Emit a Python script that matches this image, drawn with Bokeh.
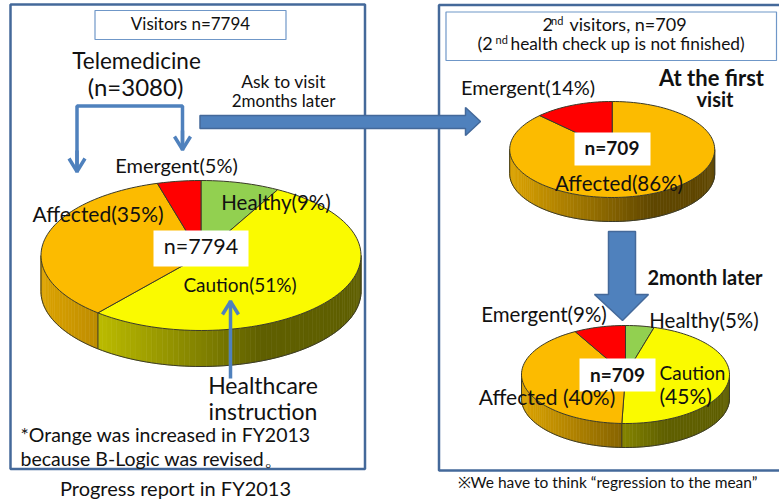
import math
from bokeh.plotting import figure
from bokeh.models import Range1d
from bokeh.core.properties import value
from bokeh.embed import file_html
from bokeh.resources import INLINE

# ---- data ----
slice_names = ["Healthy", "Caution", "Affected", "Emergent"]
visitors_values = [9, 51, 35, 5]
first_visit_values = [0, 0, 86, 14]
later_values = [5, 45, 40, 9]
slice_colors = {"Healthy": "#92D050", "Caution": "#FAFA00", "Affected": "#FCBB00", "Emergent": "#FF0000"}

# ---- layout ----
W, H = 779, 502
FONT = "Lato"
BLUE = "#4F81BD"
DARK = "#44699A"
EDGE = "#3A3A28"
# cx, cy, rx, ry, depth
PIE_LEFT = (200.5, 255, 160, 75, 36)
PIE_TOP = (611.7, 149, 102.5, 48, 24)
PIE_LOW = (625, 374, 104, 49, 24)

p = figure(width=W, height=H, x_range=Range1d(0, 779), y_range=Range1d(502, 0),
           output_backend="svg", toolbar_location=None, min_border=0)
p.axis.visible = False
p.grid.visible = False
p.outline_line_color = None
p.background_fill_color = "white"
p.border_fill_color = "white"


def warp(t):
    return t - 7 * math.sin(math.radians(t))


def shade(hex_color, f):
    r, g, b = (int(hex_color[i:i + 2], 16) for i in (1, 3, 5))
    return "#%02x%02x%02x" % (int(r * f), int(g * f), int(b * f))


def pie(values, geom):
    cx, cy, rx, ry, d = geom
    total = sum(values)
    pt = lambda t: (cx + rx * math.sin(math.radians(t)), cy - ry * math.cos(math.radians(t)))
    spans, acc = [], 0
    for name, v in zip(slice_names, values):
        if v > 0:
            spans.append((name, warp(acc / total * 360), warp((acc + v) / total * 360)))
        acc += v
    # rounded percentages may not reach 100 exactly; close the ring
    spans[-1] = (spans[-1][0], spans[-1][1], 360.0)
    spans[0] = (spans[0][0], 0.0, spans[0][2])
    # side wall
    xs, ys, cs = [], [], []
    for name, a, b in spans:
        lo, hi = max(a, 90), min(b, 270)
        t = lo
        while t < hi:
            u = min(t + 2, hi)
            x0, y0 = pt(t)
            x1, y1 = pt(u)
            xs.append([x0, x1, x1, x0])
            ys.append([y0, y1, y1 + d, y0 + d])
            frac = ((x0 + x1) / 2 - (cx - rx)) / (2 * rx)
            cs.append(shade(slice_colors[name], max(0.38, 0.88 - 0.72 * frac)))
            t = u
    p.patches(xs, ys, fill_color=cs, line_color=cs, line_width=0.6)
    arc = [90 + i * 2 for i in range(91)]
    p.line([pt(t)[0] for t in arc], [pt(t)[1] + d for t in arc], line_color=EDGE, line_width=1)
    for t in (90, 270):
        x, y = pt(t)
        p.line([x, x], [y, y + d], line_color=EDGE, line_width=1)
    for name, a, b in spans:
        if 90 < a < 270:
            x, y = pt(a)
            p.line([x, x], [y, y + d], line_color=EDGE, line_width=1)
    # top face
    for name, a, b in spans:
        n = max(2, int((b - a) / 2))
        ts = [a + (b - a) * i / n for i in range(n + 1)]
        fx = [cx] + [pt(t)[0] for t in ts]
        fy = [cy] + [pt(t)[1] for t in ts]
        p.patch(fx, fy, fill_color=slice_colors[name], line_color=EDGE, line_width=1)


def box(x0, y0, x1, y1, fill=None, line=None, lw=1.0):
    p.patch([x0, x1, x1, x0], [y0, y0, y1, y1], fill_color=fill or "white",
            fill_alpha=1 if fill else 0, line_color=line, line_width=lw, line_alpha=1 if line else 0)


def write(x, y, s, size, align="left", bold=False, color="#111111"):
    p.text([x], [y - 1.5], text=[s], text_font=value(FONT), text_font_size=f"{size}px", text_align=align,
           text_baseline="middle", text_color=color, text_font_style="bold" if bold else "normal")


def open_arrow(x, y0, y1):
    s = 1 if y1 > y0 else -1
    p.line([x, x], [y0, y1], line_color=BLUE, line_width=3.5)
    p.line([x - 8, x, x + 8], [y1 - 14 * s, y1 - 1 * s, y1 - 14 * s], line_color=BLUE, line_width=3.5)


# frames
box(10, 4, 364.5, 468.5, line=DARK, lw=2.5)
p.line([779, 438.5, 438.5, 779], [4.5, 4.5, 470, 470], line_color=DARK, line_width=2.5)
box(94.5, 10, 285.5, 39, line="#6F97C8", lw=1.2)
box(445.5, 11.5, 776, 60, line="#6F97C8", lw=1.2)

pie(visitors_values, PIE_LEFT)
pie(first_visit_values, PIE_TOP)
pie(later_values, PIE_LOW)

# connectors and arrows
p.line([76.5, 76.5, 182, 182], [170, 105.5, 105.5, 148], line_color=BLUE, line_width=3.5)
open_arrow(76.5, 150, 172)
open_arrow(182, 130, 150)
open_arrow(230, 378, 300)
p.patch([199.5, 465, 465, 480, 465, 465, 199.5], [115, 115, 107, 121, 135, 128, 128],
        fill_color=BLUE, line_color=DARK, line_width=1.5)
p.patch([608, 635, 635, 648, 622, 594, 608], [231, 231, 294, 294, 320, 294, 294],
        fill_color=BLUE, line_color=DARK, line_width=1.5)

# white count boxes
box(153, 230, 248, 266, fill="white")
box(574, 132, 650, 165, fill="white")
box(579, 358, 655, 391, fill="white")

# texts
write(190, 24.5, "Visitors n=7794", 17, "center")
write(136, 61, "Telemedicine", 22.5, "center")
write(135, 87, "(n=3080)", 24, "center")
write(283, 82, "Ask to visit", 17.5, "center")
write(283, 101, "2months later", 17, "center")
write(176, 166, "Emergent(5%)", 20, "center")
write(97.5, 214, "Affected(35%)", 21, "center")
write(275.5, 203, "Healthy(9%)", 20.5, "center")
write(200.5, 247, "n=7794", 21.5, "center")
write(239.5, 285, "Caution(51%)", 19, "center")
write(262.5, 386, "Healthcare", 23, "center")
write(262.5, 412, "instruction", 23, "center")
write(20, 435, "*Orange was increased in FY2013", 19.5)
write(20, 459, "because B-Logic was revised。", 19.5)
write(175, 489, "Progress report in FY2013", 20, "center")

write(542, 25, "2", 18)
write(550.5, 21.5, "nd", 11)
write(569, 25, "visitors, n=709", 18)
write(477, 44, "(2", 18)
write(495, 40.5, "nd", 11)
write(510, 44, "health check up is not finished)", 17.3)
write(527.5, 88, "Emergent(14%)", 20, "center")
write(711, 78, "At the first", 22, "center", bold=True)
write(714.5, 100, "visit", 20, "center", bold=True)
write(611.5, 148, "n=709", 19, "center", bold=True)
write(618.5, 184, "Affected(86%)", 20.5, "center")
write(704.5, 278, "2month later", 20, "center", bold=True)
write(543.5, 315, "Emergent(9%)", 20.5, "center")
write(703.5, 321, "Healthy(5%)", 20.5, "center")
write(617, 375, "n=709", 19, "center", bold=True)
write(659, 373, "Caution", 19)
write(659, 396, "(45%)", 21)
write(546.5, 397, "Affected (40%)", 21, "center")
write(607, 483, "※We have to think “regression to the mean”", 15.5, "center")

html = file_html(p, INLINE)
open("out.html", "w").write(html)
